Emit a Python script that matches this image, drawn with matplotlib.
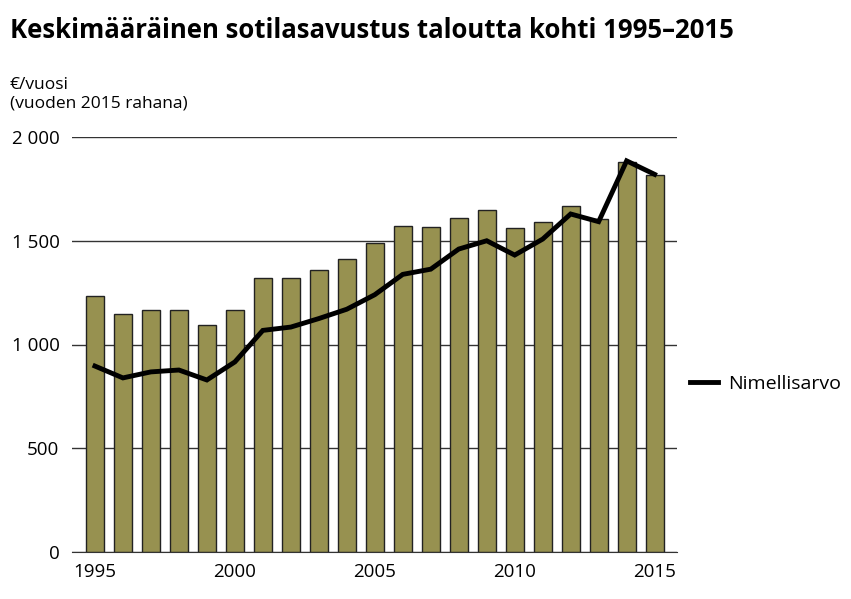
import matplotlib.pyplot as plt
from matplotlib.lines import Line2D

# ── DATA ──────────────────────────────────────────────────────────────────────
years = list(range(1995, 2016))
real_values = [1235, 1146, 1168, 1168, 1093, 1166, 1322, 1322, 1359, 1414, 1489,
               1570, 1565, 1608, 1650, 1562, 1589, 1666, 1605, 1878, 1816]
nominal = [896, 839, 868, 877, 829, 916, 1068, 1084, 1125, 1170, 1240,
           1338, 1363, 1460, 1500, 1431, 1508, 1629, 1592, 1885, 1820]
y_ticks = [0, 500, 1000, 1500, 2000]
y_tick_labels = ["0", "500", "1 000", "1 500", "2 000"]
x_ticks = [1995, 2000, 2005, 2010, 2015]

plt.rcParams['font.family'] = ['Open Sans', 'DejaVu Sans']

# ── PLOT ──────────────────────────────────────────────────────────────────────
fig = plt.figure(figsize=(8.51, 5.99), dpi=100)
ax = fig.add_axes([72 / 851, 1 - 552 / 599, 605 / 851, 415 / 599])

ax.bar(years, real_values, width=0.65, color="#979150", edgecolor="#222222",
       linewidth=1.0, zorder=2)
ax.plot(years, nominal, color="black", linewidth=3.5, zorder=3,
        solid_joinstyle="miter")

ax.set_xlim(1994.18, 2015.8)
ax.set_ylim(0, 2000)
ax.set_yticks(y_ticks)
ax.set_yticklabels(y_tick_labels, fontsize=13.5)
ax.set_xticks(x_ticks)
ax.set_xticklabels([str(x) for x in x_ticks], fontsize=13.5)
ax.tick_params(axis="both", length=0)
ax.tick_params(axis="x", pad=8)
ax.tick_params(axis="y", pad=9)
ax.yaxis.grid(True, color="#333333", linewidth=1.0, zorder=0)
ax.set_axisbelow(True)
for s in ["top", "right", "left"]:
    ax.spines[s].set_visible(False)
ax.spines["bottom"].set_color("#333333")
ax.spines["bottom"].set_zorder(4)

fig.text(10 / 851, 1 - 31 / 599, "Keskimääräinen sotilasavustus taloutta kohti 1995–2015",
         fontsize=18.5, fontweight="bold", va="center", ha="left")
fig.text(10 / 851, 1 - 85 / 599, "€/vuosi", fontsize=12.5, va="center", ha="left")
fig.text(10 / 851, 1 - 104 / 599, "(vuoden 2015 rahana)", fontsize=12.5,
         va="center", ha="left")

handle = Line2D([0], [0], color="black", linewidth=3.5)
fig.legend([handle], ["Nimellisarvo"], loc="center left",
           bbox_to_anchor=(684 / 851, 1 - 384 / 599), frameon=False,
           fontsize=14, handlelength=1.45, handletextpad=0.5,
           borderaxespad=0, borderpad=0.3)

plt.savefig("out.png", dpi=100)
